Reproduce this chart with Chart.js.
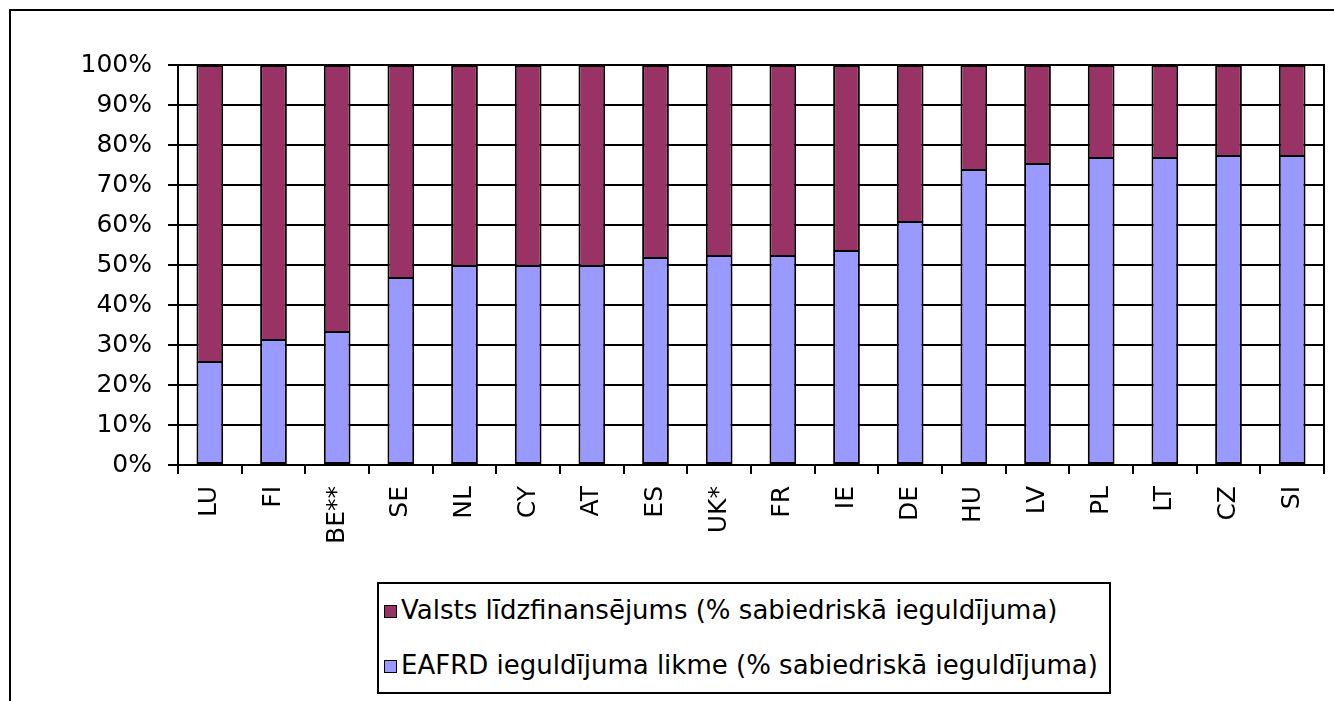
<!DOCTYPE html>
<html>
<head>
<meta charset="utf-8">
<script src="https://cdn.jsdelivr.net/npm/chart.js@4/dist/chart.umd.min.js"></script>
<style>
    html, body { margin: 0; padding: 0; background: #fff; }
    #wrap { position: relative; width: 1334px; height: 701px; overflow: hidden; }
    #frame { position: absolute; left: 9px; top: 9px; width: 1400px; height: 800px; border-left: 2px solid #000; border-top: 2px solid #000; }
    #chartCanvas { position: absolute; left: 0; top: 0; }
    #legendBox { position: absolute; left: 377px; top: 582px; width: 730px; height: 108px; border: 2px solid #000; background: #fff;
        font-family: "DejaVu Sans", Verdana, sans-serif; font-size: 26px; color: #000; }
    .legend-row { position: absolute; left: 5px; height: 30px; line-height: 30px; white-space: nowrap; }
    .legend-mark { display: inline-block; width: 11px; height: 11px; border: 1px solid #000; margin-right: 4px; vertical-align: 1px; }
</style>
</head>
<body>
<div id="wrap">
    <div id="frame"></div>
    <canvas id="chartCanvas" width="1334" height="701"></canvas>
    <div id="legendBox"></div>
</div>
<script>
// categories (member states)
const countries = ['LU', 'FI', 'BE**', 'SE', 'NL', 'CY', 'AT', 'ES', 'UK*', 'FR', 'IE', 'DE', 'HU', 'LV', 'PL', 'LT', 'CZ', 'SI'];

// EAFRD contribution rate, % of public expenditure
const eafrdRate = [26, 31.5, 33.5, 47, 50, 50, 50, 52, 52.5, 52.5, 53.75, 61, 74, 75.5, 77, 77, 77.5, 77.5];

// national co-financing, % of public expenditure
const nationalShare = [74, 68.5, 66.5, 53, 50, 50, 50, 48, 47.5, 47.5, 46.25, 39, 26, 24.5, 23, 23, 22.5, 22.5];

const seriesNames = [
    'EAFRD ieguldījuma likme (% sabiedriskā ieguldījuma)',
    'Valsts līdzfinansējums (% sabiedriskā ieguldījuma)'
];

const yTicks = [0, 10, 20, 30, 40, 50, 60, 70, 80, 90, 100];

const fontFamily = '"DejaVu Sans", Verdana, sans-serif';

// black frame round the plot area
const plotBorder = {
    id: 'plotBorder',
    afterDatasetsDraw(chart) {
        const { ctx, chartArea } = chart;
        ctx.save();
        ctx.strokeStyle = '#000';
        ctx.lineWidth = 2;
        ctx.strokeRect(chartArea.left, chartArea.top, chartArea.right - chartArea.left, chartArea.bottom - chartArea.top);
        ctx.restore();
    }
};

const ctx = document.getElementById('chartCanvas').getContext('2d');
const chart = new Chart(ctx, {
    type: 'bar',
    data: {
        labels: countries,
        datasets: [{
            label: seriesNames[0],
            data: eafrdRate,
            backgroundColor: '#9999FF',
            borderColor: '#000',
            borderWidth: 2,
            borderSkipped: false
        }, {
            label: seriesNames[1],
            data: nationalShare,
            backgroundColor: '#993366',
            borderColor: '#000',
            borderWidth: 2,
            borderSkipped: 'start'   // the lower bar already draws the divider
        }]
    },
    options: {
        responsive: false,
        animation: false,
        devicePixelRatio: 1,
        layout: { padding: { top: 65, right: 10, left: 0, bottom: 0 } },
        datasets: {
            bar: { categoryPercentage: 1, barPercentage: 0.42 }
        },
        plugins: {
            legend: { display: false },
            tooltip: { enabled: false }
        },
        scales: {
            x: {
                stacked: true,
                offset: true,
                grid: { display: true, drawOnChartArea: false, drawTicks: true, offset: true, tickLength: 9, color: '#000', lineWidth: 2 },
                border: { color: '#000', width: 2 },
                ticks: {
                    color: '#000',
                    font: { family: fontFamily, size: 25 },
                    maxRotation: 90,
                    minRotation: 90,
                    padding: 12,
                    autoSkip: false
                },
                afterFit(scale) {
                    scale.height = 236;
                    scale.paddingLeft = 0;
                    scale.paddingRight = 0;
                }
            },
            y: {
                stacked: true,
                min: 0,
                max: 100,
                afterBuildTicks(scale) {
                    scale.ticks = yTicks.map(v => ({ value: v }));
                },
                grid: { color: '#000', lineWidth: 2, tickLength: 10 },
                border: { color: '#000', width: 2 },
                ticks: {
                    color: '#000',
                    font: { family: fontFamily, size: 25 },
                    padding: 16,
                    callback: (v) => v + '%'
                },
                afterFit(scale) {
                    scale.width = 178;
                }
            }
        }
    },
    plugins: [plotBorder]
});

// legend box, top entry first as in the original
const legendBox = document.getElementById('legendBox');
const rowTops = [11, 66];
chart.data.datasets.slice().reverse().forEach((ds, i) => {
    const row = document.createElement('div');
    row.className = 'legend-row';
    row.style.top = rowTops[i] + 'px';
    const mark = document.createElement('span');
    mark.className = 'legend-mark';
    mark.style.background = ds.backgroundColor;
    row.appendChild(mark);
    row.appendChild(document.createTextNode(ds.label));
    legendBox.appendChild(row);
});
</script>
</body>
</html>
